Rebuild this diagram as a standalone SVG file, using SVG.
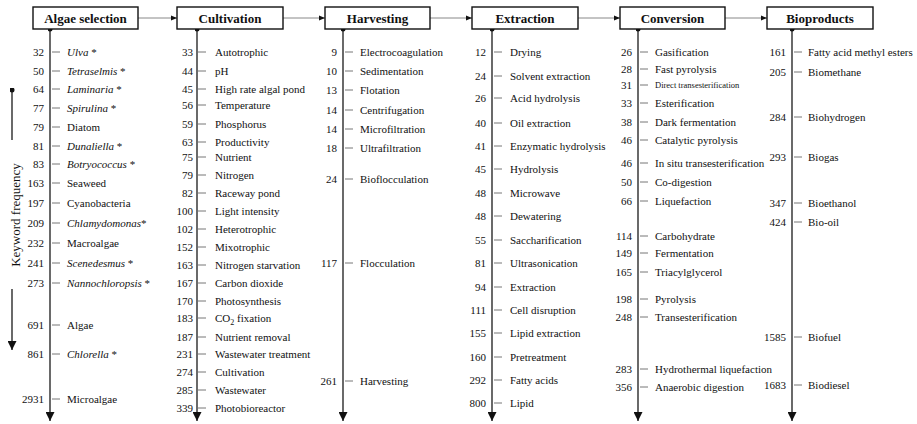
<svg xmlns="http://www.w3.org/2000/svg" width="917" height="424" viewBox="0 0 917 424">
<style>
text{font-family:"Liberation Serif","Times New Roman",serif;fill:#111}
.hd{font-size:13px;font-weight:bold;text-anchor:middle}
.n{font-size:11px;text-anchor:end}
.l{font-size:11px}
.box{fill:#fff;stroke:#111;stroke-width:1.4}
.ax{stroke:#444;stroke-width:1.6;fill:none}
.tk{stroke:#777;stroke-width:1;fill:none}
.cn{stroke:#888;stroke-width:1;fill:none}
</style>
<defs>
<marker id="ah" viewBox="0 0 10 10" refX="10" refY="5" markerWidth="9" markerHeight="9" markerUnits="userSpaceOnUse" orient="auto"><path d="M0,0L10,5L0,10z" fill="#111"/></marker>
<marker id="sa" viewBox="0 0 10 10" refX="10" refY="5" markerWidth="6" markerHeight="6" markerUnits="userSpaceOnUse" orient="auto"><path d="M0,1L10,5L0,9z" fill="#111"/></marker>
<marker id="dot" viewBox="0 0 6 6" refX="3" refY="3" markerWidth="5" markerHeight="5" markerUnits="userSpaceOnUse"><circle cx="3" cy="3" r="3" fill="#111"/></marker>
</defs>

<g id="connectors">
<path class="cn" d="M138,18H177" marker-end="url(#sa)"/>
<path class="cn" d="M283,18H325" marker-end="url(#sa)"/>
<path class="cn" d="M430,18H472" marker-end="url(#sa)"/>
<path class="cn" d="M578,18H620" marker-end="url(#sa)"/>
<path class="cn" d="M725,18H767" marker-end="url(#sa)"/>
</g>

<g id="keyword-frequency">
<path class="ax" d="M12,90V140" marker-start="url(#dot)"/>
<path class="ax" d="M12,289V350" marker-end="url(#ah)"/>
<text class="l" style="font-size:13px;text-anchor:middle" transform="translate(20,215) rotate(-90)">Keyword frequency</text>
</g>

<g id="algae-selection">
<path class="ax" d="M50,29V421" marker-start="url(#dot)" marker-end="url(#ah)"/>
<rect class="box" x="33" y="7" width="105" height="22"/>
<text class="hd" x="85.5" y="23">Algae selection</text>
<path class="tk" d="M52,52h8M52,71h8M52,89h8M52,108h8M52,127h8M52,146h8M52,164h8M52,183h8M52,203h8M52,223h8M52,243h8M52,263h8M52,283h8M52,325h8M52,354h8M52,399h8"/>
<g class="n">
<text x="44" y="56">32</text><text x="44" y="75">50</text><text x="44" y="93">64</text><text x="44" y="112">77</text><text x="44" y="131">79</text><text x="44" y="150">81</text><text x="44" y="168">83</text><text x="44" y="187">163</text><text x="44" y="207">197</text><text x="44" y="227">209</text><text x="44" y="247">232</text><text x="44" y="267">241</text><text x="44" y="287">273</text><text x="44" y="329">691</text><text x="44" y="358">861</text><text x="44" y="403">2931</text>
</g>
<g class="l">
<text x="67" y="56"><tspan font-style="italic">Ulva</tspan> *</text>
<text x="67" y="75"><tspan font-style="italic">Tetraselmis</tspan> *</text>
<text x="67" y="93"><tspan font-style="italic">Laminaria</tspan> *</text>
<text x="67" y="112"><tspan font-style="italic">Spirulina</tspan> *</text>
<text x="67" y="131">Diatom</text>
<text x="67" y="150"><tspan font-style="italic">Dunaliella</tspan> *</text>
<text x="67" y="168"><tspan font-style="italic">Botryococcus</tspan> *</text>
<text x="67" y="187">Seaweed</text>
<text x="67" y="207">Cyanobacteria</text>
<text x="67" y="227"><tspan font-style="italic">Chlamydomonas</tspan>*</text>
<text x="67" y="247">Macroalgae</text>
<text x="67" y="267"><tspan font-style="italic">Scenedesmus</tspan> *</text>
<text x="67" y="287"><tspan font-style="italic">Nannochloropsis</tspan> *</text>
<text x="67" y="329">Algae</text>
<text x="67" y="358"><tspan font-style="italic">Chlorella</tspan> *</text>
<text x="67" y="403">Microalgae</text>
</g>
</g>

<g id="cultivation">
<path class="ax" d="M197,29V421" marker-start="url(#dot)" marker-end="url(#ah)"/>
<rect class="box" x="177" y="7" width="106" height="22"/>
<text class="hd" x="230" y="23">Cultivation</text>
<path class="tk" d="M198,52h8M198,71h8M198,89h8M198,105h8M198,124h8M198,142h8M198,157h8M198,175h8M198,193h8M198,211h8M198,229h8M198,247h8M198,265h8M198,283h8M198,301h8M198,318h8M198,337h8M198,354h8M198,372h8M198,390h8M198,408h8"/>
<g class="n">
<text x="193" y="56">33</text><text x="193" y="75">44</text><text x="193" y="93">45</text><text x="193" y="109">56</text><text x="193" y="128">59</text><text x="193" y="146">63</text><text x="193" y="161">75</text><text x="193" y="179">79</text><text x="193" y="197">82</text><text x="193" y="215">100</text><text x="193" y="233">102</text><text x="193" y="251">152</text><text x="193" y="269">163</text><text x="193" y="287">167</text><text x="193" y="305">170</text><text x="193" y="322">183</text><text x="193" y="341">187</text><text x="193" y="358">231</text><text x="193" y="376">274</text><text x="193" y="394">285</text><text x="193" y="412">339</text>
</g>
<g class="l">
<text x="215" y="56">Autotrophic</text>
<text x="215" y="75">pH</text>
<text x="215" y="93">High rate algal pond</text>
<text x="215" y="109">Temperature</text>
<text x="215" y="128">Phosphorus</text>
<text x="215" y="146">Productivity</text>
<text x="215" y="161">Nutrient</text>
<text x="215" y="179">Nitrogen</text>
<text x="215" y="197">Raceway pond</text>
<text x="215" y="215">Light intensity</text>
<text x="215" y="233">Heterotrophic</text>
<text x="215" y="251">Mixotrophic</text>
<text x="215" y="269">Nitrogen starvation</text>
<text x="215" y="287">Carbon dioxide</text>
<text x="215" y="305">Photosynthesis</text>
<text x="215" y="322">CO<tspan font-size="8" dy="3">2</tspan><tspan dy="-3"> fixation</tspan></text>
<text x="215" y="341">Nutrient removal</text>
<text x="215" y="358">Wastewater treatment</text>
<text x="215" y="376">Cultivation</text>
<text x="215" y="394">Wastewater</text>
<text x="215" y="412">Photobioreactor</text>
</g>
</g>

<g id="harvesting">
<path class="ax" d="M343,29V421" marker-start="url(#dot)" marker-end="url(#ah)"/>
<rect class="box" x="325" y="7" width="105" height="22"/>
<text class="hd" x="377.5" y="23">Harvesting</text>
<path class="tk" d="M345,52h8M345,71h8M345,90h8M345,110h8M345,129h8M345,148h8M345,179h8M345,263h8M345,381h8"/>
<g class="n">
<text x="337" y="56">9</text><text x="337" y="75">10</text><text x="337" y="94">13</text><text x="337" y="114">14</text><text x="337" y="133">14</text><text x="337" y="152">18</text><text x="337" y="183">24</text><text x="337" y="267">117</text><text x="337" y="385">261</text>
</g>
<g class="l">
<text x="360" y="56">Electrocoagulation</text>
<text x="360" y="75">Sedimentation</text>
<text x="360" y="94">Flotation</text>
<text x="360" y="114">Centrifugation</text>
<text x="360" y="133">Microfiltration</text>
<text x="360" y="152">Ultrafiltration</text>
<text x="360" y="183">Bioflocculation</text>
<text x="360" y="267">Flocculation</text>
<text x="360" y="385">Harvesting</text>
</g>
</g>

<g id="extraction">
<path class="ax" d="M492,29V421" marker-start="url(#dot)" marker-end="url(#ah)"/>
<rect class="box" x="472" y="7" width="106" height="22"/>
<text class="hd" x="525" y="23">Extraction</text>
<path class="tk" d="M494,52h8M494,76h8M494,98h8M494,123h8M494,146h8M494,169h8M494,193h8M494,216h8M494,240h8M494,263h8M494,287h8M494,310h8M494,333h8M494,357h8M494,380h8M494,403h8"/>
<g class="n">
<text x="486" y="56">12</text><text x="486" y="80">24</text><text x="486" y="102">26</text><text x="486" y="127">40</text><text x="486" y="150">41</text><text x="486" y="173">45</text><text x="486" y="197">48</text><text x="486" y="220">48</text><text x="486" y="244">55</text><text x="486" y="267">81</text><text x="486" y="291">94</text><text x="486" y="314">111</text><text x="486" y="337">155</text><text x="486" y="361">160</text><text x="486" y="384">292</text><text x="486" y="407">800</text>
</g>
<g class="l">
<text x="510" y="56">Drying</text>
<text x="510" y="80">Solvent extraction</text>
<text x="510" y="102">Acid hydrolysis</text>
<text x="510" y="127">Oil extraction</text>
<text x="510" y="150">Enzymatic hydrolysis</text>
<text x="510" y="173">Hydrolysis</text>
<text x="510" y="197">Microwave</text>
<text x="510" y="220">Dewatering</text>
<text x="510" y="244">Saccharification</text>
<text x="510" y="267">Ultrasonication</text>
<text x="510" y="291">Extraction</text>
<text x="510" y="314">Cell disruption</text>
<text x="510" y="337">Lipid extraction</text>
<text x="510" y="361">Pretreatment</text>
<text x="510" y="384">Fatty acids</text>
<text x="510" y="407">Lipid</text>
</g>
</g>

<g id="conversion">
<path class="ax" d="M638,29V421" marker-start="url(#dot)" marker-end="url(#ah)"/>
<rect class="box" x="620" y="7" width="105" height="22"/>
<text class="hd" x="672.5" y="23">Conversion</text>
<path class="tk" d="M640,52h8M640,69h8M640,85h8M640,103h8M640,122h8M640,140h8M640,163h8M640,182h8M640,201h8M640,236h8M640,253h8M640,272h8M640,299h8M640,317h8M640,369h8M640,387h8"/>
<g class="n">
<text x="632" y="56">26</text><text x="632" y="73">28</text><text x="632" y="89">31</text><text x="632" y="107">33</text><text x="632" y="126">38</text><text x="632" y="144">46</text><text x="632" y="167">46</text><text x="632" y="186">50</text><text x="632" y="205">66</text><text x="632" y="240">114</text><text x="632" y="257">149</text><text x="632" y="276">165</text><text x="632" y="303">198</text><text x="632" y="321">248</text><text x="632" y="373">283</text><text x="632" y="391">356</text>
</g>
<g class="l">
<text x="655" y="56">Gasification</text>
<text x="655" y="73">Fast pyrolysis</text>
<text x="655" y="88" style="font-size:8.5px">Direct transesterification</text>
<text x="655" y="107">Esterification</text>
<text x="655" y="126">Dark fermentation</text>
<text x="655" y="144">Catalytic pyrolysis</text>
<text x="655" y="167">In situ transesterification</text>
<text x="655" y="186">Co-digestion</text>
<text x="655" y="205">Liquefaction</text>
<text x="655" y="240">Carbohydrate</text>
<text x="655" y="257">Fermentation</text>
<text x="655" y="276">Triacylglycerol</text>
<text x="655" y="303">Pyrolysis</text>
<text x="655" y="321">Transesterification</text>
<text x="655" y="373">Hydrothermal liquefaction</text>
<text x="655" y="391">Anaerobic digestion</text>
</g>
</g>

<g id="bioproducts">
<path class="ax" d="M792,29V421" marker-start="url(#dot)" marker-end="url(#ah)"/>
<rect class="box" x="767" y="7" width="106" height="22"/>
<text class="hd" x="820" y="23">Bioproducts</text>
<path class="tk" d="M794,52h8M794,72h8M794,117h8M794,157h8M794,203h8M794,222h8M794,337h8M794,385h8"/>
<g class="n">
<text x="786" y="56">161</text><text x="786" y="76">205</text><text x="786" y="121">284</text><text x="786" y="161">293</text><text x="786" y="207">347</text><text x="786" y="226">424</text><text x="786" y="341">1585</text><text x="786" y="389">1683</text>
</g>
<g class="l">
<text x="808" y="56">Fatty acid methyl esters</text>
<text x="808" y="76">Biomethane</text>
<text x="808" y="121">Biohydrogen</text>
<text x="808" y="161">Biogas</text>
<text x="808" y="207">Bioethanol</text>
<text x="808" y="226">Bio-oil</text>
<text x="808" y="341">Biofuel</text>
<text x="808" y="389">Biodiesel</text>
</g>
</g>
</svg>
